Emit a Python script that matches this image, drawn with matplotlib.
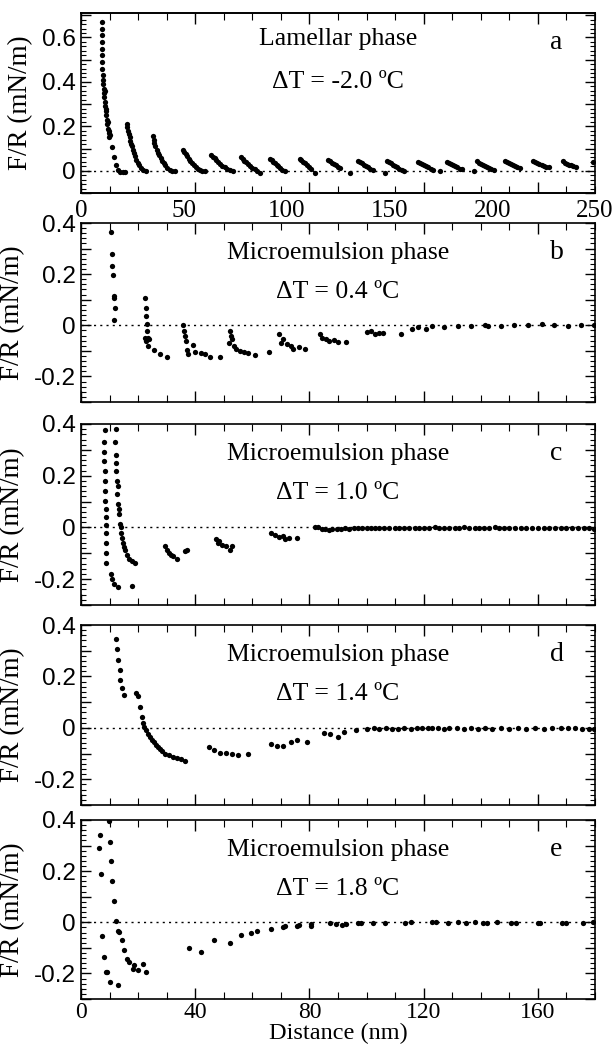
import numpy as np
import matplotlib
matplotlib.use("Agg")
import matplotlib.pyplot as plt
from matplotlib.ticker import MultipleLocator, FuncFormatter

plt.rcParams["font.family"] = ["Liberation Serif", "DejaVu Serif"]
plt.rcParams["axes.unicode_minus"] = False
plt.rcParams["mathtext.default"] = "regular"

# ---- panel a: lamellar phase, dT = -2.0 C (distance 0-250 nm)
a_x = [10.0, 10.0, 10.1, 10.1, 10.2, 10.2, 10.3, 10.4, 10.5,
       10.6, 10.8, 11.0, 11.2, 11.4, 11.5, 11.6, 11.8, 12.0, 12.2, 12.3, 12.5, 12.8,
       13.0, 13.1, 13.4, 13.7, 13.8, 14.2, 15.2, 16.1, 17.0, 18.0, 19.0, 20.5, 21.5,
       22.2, 22.5, 22.8, 23.2, 23.6, 24.0, 24.4, 24.8, 25.3, 25.8, 26.3, 26.9, 27.5,
       28.2, 29.0, 30.0, 31.5,
       35.0, 35.3, 35.7, 36.2, 36.8, 37.4, 38.0, 38.7, 39.4, 40.2, 41.0, 42.0, 43.2,
       44.5, 45.5,
       49.6, 50.2, 50.9, 51.6, 52.4, 53.2, 54.0, 54.9, 55.8, 56.8, 57.8, 59.0, 60.5,
       63.4, 64.2, 65.0, 65.9, 66.8, 67.8, 68.8, 69.9, 71.0, 72.3, 73.8,
       77.7, 78.6, 79.5, 80.4, 81.4, 82.4, 83.4, 84.5, 85.7, 87.0,
       92.0, 92.8, 93.6, 94.4, 95.2, 96.0, 96.9, 97.8, 99.0,
       106.3, 107.2, 108.1, 109.0, 110.0, 111.0, 112.0, 113.6,
       120.1, 121.0, 122.0, 123.0, 124.0, 125.0, 126.0, 130.7,
       134.5, 135.5, 136.5, 137.5, 138.5, 139.5, 140.5, 141.8, 147.7,
       148.9, 149.8, 150.8, 151.8, 152.8, 153.8, 154.8, 155.9, 157.0,
       164.0, 165.0, 166.0, 167.0, 168.0, 169.0, 170.0, 171.2, 174.8,
       178.0, 179.0, 180.0, 181.0, 182.0, 183.0, 184.2, 185.5,
       191.0, 192.5, 193.5, 194.5, 195.5, 196.5, 197.5, 198.5, 199.6, 200.8,
       206.3, 207.3, 208.3, 209.3, 210.3, 211.3, 212.3, 213.5,
       220.0, 221.0, 222.0, 223.0, 224.0, 225.0, 226.0, 227.5,
       234.5, 235.5, 236.5, 237.5, 238.5, 239.5, 240.8, 249.0]
a_y = [0.67, 0.64, 0.61, 0.58, 0.55, 0.52, 0.49, 0.46, 0.43,
       0.41, 0.39, 0.37, 0.35, 0.33, 0.36, 0.31, 0.29, 0.27, 0.25, 0.28, 0.23, 0.21,
       0.22, 0.19, 0.17, 0.15, 0.18, 0.16, 0.108, 0.063, 0.026, 0.003, -0.005, -0.005, -0.004,
       0.21, 0.195, 0.18, 0.165, 0.15, 0.135, 0.12, 0.11, 0.095, 0.08, 0.065, 0.05, 0.037,
       0.025, 0.012, 0.002, 0.0,
       0.155, 0.14, 0.125, 0.11, 0.095, 0.082, 0.07, 0.058, 0.046, 0.034, 0.024, 0.014, 0.005,
       0.0, -0.002,
       0.095, 0.085, 0.075, 0.065, 0.055, 0.045, 0.036, 0.027, 0.018, 0.01, 0.003, 0.0, -0.002,
       0.072, 0.064, 0.056, 0.048, 0.04, 0.031, 0.023, 0.015, 0.008, 0.002, -0.002,
       0.062, 0.054, 0.046, 0.038, 0.03, 0.022, 0.014, 0.006, -0.002, -0.012,
       0.055, 0.048, 0.041, 0.034, 0.027, 0.02, 0.012, 0.005, -0.003,
       0.054, 0.047, 0.04, 0.033, 0.025, 0.017, 0.009, -0.012,
       0.048, 0.042, 0.036, 0.03, 0.024, 0.019, 0.014, -0.012,
       0.045, 0.039, 0.033, 0.027, 0.021, 0.015, 0.009, 0.004, -0.012,
       0.046, 0.04, 0.034, 0.028, 0.022, 0.016, 0.01, 0.004, 0.0,
       0.04, 0.035, 0.03, 0.025, 0.02, 0.015, 0.01, 0.005, 0.0,
       0.04, 0.035, 0.03, 0.025, 0.02, 0.015, 0.01, 0.008,
       0.0, 0.042, 0.037, 0.032, 0.027, 0.022, 0.017, 0.012, 0.008, 0.004,
       0.045, 0.04, 0.035, 0.03, 0.025, 0.02, 0.016, 0.012,
       0.046, 0.041, 0.036, 0.031, 0.027, 0.023, 0.019, 0.016,
       0.042, 0.037, 0.032, 0.028, 0.024, 0.02, 0.016, 0.038]

# ---- panel b: microemulsion, dT = 0.4 C
b_x = [10.6, 11.0, 11.0, 11.3, 11.6, 11.4, 11.8, 11.6,
       22.4, 22.6, 22.8, 23.0, 23.2, 23.5, 23.8, 22.4, 22.8, 23.6, 25.4, 27.5, 30.2,
       35.7, 36.1, 36.5, 36.9, 37.1, 37.5, 39.2, 39.8, 41.9, 43.3, 45.3, 48.8,
       52.2, 52.5, 52.8, 51.9, 53.6, 54.3, 55.6, 57.0, 58.4, 60.9, 66.0,
       69.4, 70.8, 70.0, 72.1, 73.5, 74.2, 76.3, 78.3,
       83.8, 84.5, 85.9, 87.0, 88.6, 90.0, 92.7,
       100.3, 101.7, 103.0, 104.4, 105.8, 112.0,
       116.0, 118.0, 120.9, 123.0, 127.0, 132.0, 136.7, 141.5, 142.5, 147.0,
       151.8, 156.6, 161.4, 165.6, 170.4, 175.2, 179.5]
b_y = [0.365, 0.28, 0.23, 0.195, 0.113, 0.107, 0.066, 0.02,
       0.107, 0.068, 0.036, 0.004, -0.022, -0.048, -0.054, -0.048, -0.063, -0.08, -0.097, -0.112, -0.123,
       0.0, -0.022, -0.041, -0.061, -0.097, -0.112, -0.076, -0.106, -0.11, -0.112, -0.125, -0.125,
       -0.022, -0.041, -0.054, -0.07, -0.08, -0.093, -0.1, -0.106, -0.11, -0.115, -0.106,
       -0.035, -0.054, -0.071, -0.074, -0.08, -0.093, -0.086, -0.093,
       -0.035, -0.048, -0.054, -0.061, -0.057, -0.067, -0.067,
       -0.028, -0.022, -0.035, -0.032, -0.032, -0.035,
       -0.013, -0.006, -0.013, -0.003, -0.006, -0.003, -0.003, 0.0, -0.003, -0.003,
       0.0, 0.0, 0.004, 0.0, -0.003, 0.0, 0.0]

# ---- panel c: microemulsion, dT = 1.0 C
c_x = [8.3, 8.2, 8.2, 8.2, 8.3, 8.4, 8.4, 8.5, 8.6, 8.7, 8.7, 8.7, 8.7, 8.8, 8.9, 10.6, 11.0, 11.7, 12.8,
       12.1, 12.0, 12.2, 12.3, 12.5, 12.7, 13.0, 13.3, 13.7, 14.0, 14.6, 15.5, 16.1, 16.9, 17.9, 18.8,
       12.4, 12.9, 13.4, 13.9, 14.3, 15.0, 17.9,
       29.5, 30.2, 30.9, 32.3, 33.7, 36.4, 37.0, 31.5,
       47.4, 48.4, 49.5, 50.8, 52.2, 52.9, 48.0,
       66.6, 68.0, 69.4, 70.8, 72.8, 75.6, 71.5,
       81.8, 83.0, 84.3, 85.5, 86.8, 88.0, 89.5, 91.0, 92.5, 94.0, 95.5, 97.0, 98.5,
       100.0, 101.5, 103.0, 104.5, 106.0, 108.0, 110.0, 111.5, 113.0, 115.0, 117.0,
       118.5, 120.0, 122.0, 124.0, 125.5, 127.0, 129.0, 131.0, 132.5, 134.0, 136.0,
       138.0, 139.5, 141.0, 143.0, 145.0, 146.5, 148.0, 150.0, 152.0, 154.0, 156.0,
       158.0, 160.0, 162.0, 164.0, 166.0, 168.0, 170.0, 172.0, 174.0, 176.0, 178.0, 179.5]
c_y = [0.376, 0.33, 0.29, 0.256, 0.218, 0.18, 0.142, 0.104, 0.072, 0.04, 0.009, -0.023, -0.061,
       -0.099, -0.137, -0.181, -0.2, -0.219, -0.232,
       0.382, 0.33, 0.28, 0.218, 0.18, 0.129, 0.091, 0.053, 0.015, -0.023, -0.061, -0.086,
       -0.105, -0.122, -0.13, -0.137,
       0.25, 0.16, 0.07, 0.0, -0.04, -0.075, -0.225,
       -0.073, -0.086, -0.099, -0.109, -0.124, -0.092, -0.086, -0.105,
       -0.046, -0.054, -0.067, -0.073, -0.086, -0.071, -0.06,
       -0.023, -0.029, -0.038, -0.035, -0.042, -0.042, -0.045,
       0.0, 0.003, -0.006, -0.008, -0.01, -0.008, -0.006, -0.005, -0.004, -0.005, -0.003, -0.004, -0.002,
       -0.003, -0.002, -0.004, -0.002, -0.001, -0.003, -0.002, -0.004, -0.001, -0.003, -0.002,
       -0.001, -0.003, -0.002, 0.0, -0.003, -0.002, -0.001, -0.004, -0.002, 0.001, -0.003,
       -0.002, -0.001, -0.003, -0.002, 0.0, -0.003, -0.002, -0.003, -0.001, -0.002, -0.003,
       -0.002, -0.001, -0.003, -0.002, -0.003, -0.001, -0.002, -0.003, -0.002, -0.004, -0.003, -0.005]

# ---- panel d: microemulsion, dT = 1.4 C
d_x = [12.4, 12.7, 13.1, 13.5, 13.8, 14.4, 15.1,
       19.2, 20.0, 20.5, 21.3, 22.0, 23.4, 24.7, 26.1, 27.5, 29.5, 32.3, 35.0, 36.4,
       21.7, 22.6, 24.0, 25.4, 26.8, 28.4, 30.8, 33.6,
       44.7, 46.7, 48.8, 50.8, 52.9, 55.0, 58.4,
       66.6, 68.7, 70.8, 73.5, 75.6, 79.0,
       85.2, 87.2, 90.0, 92.0, 96.2,
       100.3, 102.5, 104.5, 106.8, 109.0, 111.0, 113.0, 115.5, 117.5, 119.5, 121.5,
       123.0, 125.0, 127.0, 129.0, 131.5, 134.0, 136.5, 139.0, 141.5, 144.0, 147.0,
       150.0, 153.0, 156.0, 159.0, 162.0, 165.0, 168.0, 170.5, 173.0, 175.5, 178.0, 179.5]
d_y = [0.344, 0.305, 0.265, 0.226, 0.187, 0.154, 0.128,
       0.135, 0.122, 0.082, 0.043, 0.004, -0.022, -0.048, -0.068, -0.081, -0.1, -0.114, -0.123, -0.127,
       0.02, -0.01, -0.035, -0.055, -0.075, -0.09, -0.107, -0.118,
       -0.075, -0.088, -0.098, -0.098, -0.103, -0.107, -0.1,
       -0.061, -0.072, -0.072, -0.055, -0.048, -0.055,
       -0.02, -0.025, -0.035, -0.016, -0.007,
       -0.003, -0.002, -0.003, -0.002, -0.003, -0.003, -0.002, -0.003, -0.002, -0.001, 0.001,
       -0.001, -0.002, -0.003, -0.002, -0.001, -0.003, -0.002, -0.003, -0.002, -0.003, -0.001,
       -0.003, -0.002, -0.003, -0.002, -0.003, -0.001, -0.002, 0.0, -0.002, -0.003, -0.003, -0.003]

# ---- panel e: microemulsion, dT = 1.8 C
e_x = [6.7, 6.3, 7.0, 7.3, 8.2, 8.7, 9.2, 9.9, 10.2, 10.3, 10.5, 10.8, 11.5, 12.2, 12.8, 12.9,
       13.3, 14.2, 15.1, 16.1, 16.9, 18.5, 18.3, 19.9, 21.6, 22.9,
       37.8, 41.9, 46.7, 52.2, 55.9, 59.5, 61.8, 66.6, 70.8, 71.5, 75.6, 76.3, 80.4, 80.4,
       87.2, 89.3, 91.4, 92.7, 96.9, 98.2, 102.4, 106.5, 113.4, 115.4, 123.0, 124.4,
       128.5, 132.0, 134.7, 138.0, 140.8, 142.2, 145.6, 150.5, 152.5, 160.0, 160.7,
       168.3, 169.7, 175.9, 179.3]
e_y = [0.342, 0.29, 0.188, -0.054, -0.135, -0.194, -0.194, 0.395, 0.315, -0.232, 0.238, 0.16,
       0.085, 0.004, -0.245, -0.035,
       -0.039, -0.071, -0.11, -0.145, -0.155, -0.168, -0.181, -0.187, -0.165, -0.194,
       -0.099, -0.116, -0.071, -0.08, -0.048, -0.043, -0.036, -0.026, -0.019, -0.015, -0.013, -0.011,
       -0.015, -0.006,
       -0.004, -0.006, -0.01, -0.006, -0.004, -0.004, -0.004, -0.003, -0.003, 0.0, 0.0, 0.0,
       -0.003, 0.0, -0.004, 0.0, -0.004, -0.003, 0.0, -0.003, -0.003, -0.004, -0.003,
       -0.004, -0.004, -0.004, 0.0]

titles = ["Lamellar phase", "Microemulsion phase", "Microemulsion phase",
          "Microemulsion phase", "Microemulsion phase"]
delta_t = ["-2.0", "0.4", "1.0", "1.4", "1.8"]
letters = ["a", "b", "c", "d", "e"]
panel_x = [a_x, b_x, c_x, d_x, e_x]
panel_y = [a_y, b_y, c_y, d_y, e_y]

# axes boxes in figure pixels (top, bottom)
W, H = 613, 1054
boxes_px = [(13, 193), (223, 402), (424, 605), (625, 805), (820, 999)]
left_px, right_px = 81, 595


def ytick_fmt(v, pos):
    k = v / 0.2
    if abs(k - round(k)) > 1e-6:
        return ""
    if abs(v) < 1e-9:
        return "0"
    return "%.1f" % v


fig = plt.figure(figsize=(W / 100, H / 100), dpi=100)

axes = []
for i in range(5):
    top, bot = boxes_px[i]
    ax = fig.add_axes([left_px / W, 1 - bot / H, (right_px - left_px) / W, (bot - top) / H])
    axes.append(ax)

    ax.plot(panel_x[i], panel_y[i], "o", color="black", ms=3.8, mec="none")
    ax.axhline(0, color="black", ls=(0, (1.5, 3)), lw=1.0, zorder=0)

    if i == 0:
        ax.set_ylim(-0.1, 0.71)
        ax.set_xlim(0, 250)
    else:
        ax.set_ylim(-0.3, 0.4)
        ax.set_xlim(0, 180)

    ax.yaxis.set_major_locator(MultipleLocator(0.1))
    ax.yaxis.set_minor_locator(MultipleLocator(0.02))
    ax.yaxis.set_major_formatter(FuncFormatter(ytick_fmt))
    ax.tick_params(axis="y", which="major", direction="in", length=7, width=1,
                   left=True, right=True, labelsize=17.5, pad=4)
    ax.tick_params(axis="y", which="minor", direction="in", length=3.5, width=0.8,
                   left=True, right=True)
    for lab in ax.get_yticklabels():
        lab.set_family("Liberation Sans")

    ax.set_ylabel("F/R (mN/m)", fontsize=19.5, labelpad=6)

    ax.text(0.5, 0.855 if i == 0 else 0.835, titles[i], transform=ax.transAxes,
            ha="center", va="center", fontsize=18.5)
    ax.text(0.5, 0.617, "ΔT = " + delta_t[i] + " ºC", transform=ax.transAxes,
            ha="center", va="center", fontsize=18.5)
    ax.text(0.925, 0.835, letters[i], transform=ax.transAxes,
            ha="center", va="center", fontsize=20)

    for sp in ax.spines.values():
        sp.set_linewidth(1.2)

    if i == 0:
        # labels on the 0-250 scale, tick marks kept on the 0-180 grid of the other panels
        ax.set_xticks([0, 50, 100, 150, 200, 250])
        ax.tick_params(axis="x", which="both", length=0, labelsize=18, pad=5,
                       top=False, bottom=False)
        for loc in ["bottom", "top"]:
            sec = ax.secondary_xaxis(loc, functions=(lambda x: x * 180 / 250,
                                                     lambda x: x * 250 / 180))
            sec.xaxis.set_major_locator(MultipleLocator(40))
            sec.xaxis.set_minor_locator(MultipleLocator(10))
            sec.tick_params(axis="x", which="major", direction="in", length=8, width=1,
                            labelbottom=False, labeltop=False)
            sec.tick_params(axis="x", which="minor", direction="in", length=5, width=0.8)
            sec.spines[loc].set_linewidth(1.2)
    else:
        ax.xaxis.set_major_locator(MultipleLocator(40))
        ax.xaxis.set_minor_locator(MultipleLocator(10))
        ax.tick_params(axis="x", which="major", direction="in", length=8, width=1,
                       top=True, bottom=True, labelsize=17, pad=2)
        ax.tick_params(axis="x", which="minor", direction="in", length=5, width=0.8,
                       top=True, bottom=True)
        if i < 4:
            ax.tick_params(axis="x", labelbottom=False)

axes[-1].set_xlabel("Distance (nm)", fontsize=17.5, labelpad=0)
fig.align_ylabels(axes)

fig.savefig("out.png", dpi=100)
